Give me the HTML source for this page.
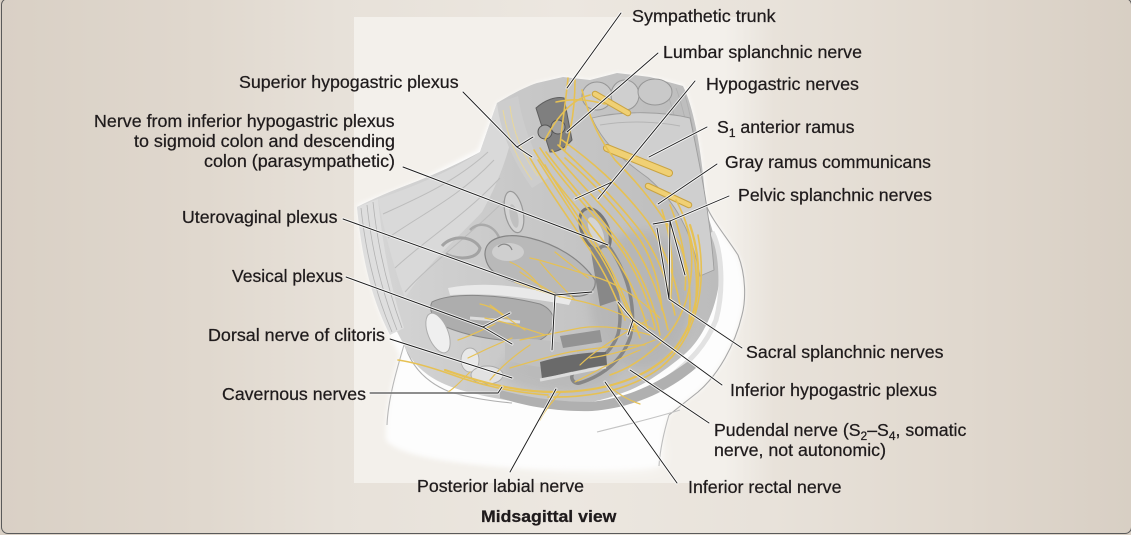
<!DOCTYPE html>
<html><head><meta charset="utf-8">
<style>
html,body{margin:0;padding:0;}
body{width:1131px;height:535px;overflow:hidden;position:relative;background:linear-gradient(to right,#d9d0c5 0%,#e0d8ce 18%,#e7e1d9 30%,#ece7e0 50%,#e8e2da 68%,#e0d8ce 85%,#d8cfc4 100%);font-family:"Liberation Sans",Arial,sans-serif;}
.frame{position:absolute;left:1px;top:-2px;width:1131px;height:536px;border:1.3px solid #5a5a5a;border-radius:7px;box-sizing:border-box;}
svg{position:absolute;left:0;top:0;}
</style></head><body>
<svg width="1131" height="535" viewBox="0 0 1131 535">
<defs>
<linearGradient id="panelG" gradientUnits="userSpaceOnUse" x1="354" y1="0" x2="775" y2="0">
<stop offset="0" stop-color="#f3f0eb"/><stop offset="0.88" stop-color="#f3f0eb"/><stop offset="1" stop-color="#f3f0eb" stop-opacity="0"/>
</linearGradient>
<linearGradient id="greyG" gradientUnits="userSpaceOnUse" x1="357" y1="0" x2="720" y2="0">
<stop offset="0" stop-color="#d6d6d6"/><stop offset="0.45" stop-color="#c8c8c8"/><stop offset="1" stop-color="#bcbcbc"/>
</linearGradient>
<filter id="soft" x="-10%" y="-10%" width="120%" height="130%"><feGaussianBlur stdDeviation="2.5"/></filter>
<filter id="soft2" x="-10%" y="-20%" width="120%" height="140%"><feGaussianBlur stdDeviation="7"/></filter>
<filter id="soft3" x="-20%" y="-20%" width="140%" height="140%"><feGaussianBlur stdDeviation="5"/></filter>
</defs>

<!-- light panel -->
<rect x="354" y="17" width="421" height="466" fill="url(#panelG)"/>

<!-- white silhouette -->
<path d="M420,430 C480,468 600,476 660,466 L660,440 L420,420 Z" fill="#ffffff" filter="url(#soft2)"/>
<path d="M357,205 L420,180 L478,150 L497,103 L537,83 L563,77 L590,80 L617,73 L650,77 L683,85 C695,110 703,160 706,205 C712,220 725,235 738,255 C746,275 746,300 742,315 C735,345 718,375 698,392 L669,415 C663,435 660,450 660,466 C600,472 500,470 440,460 C410,455 392,448 386,440 C385,415 390,385 400,355 C380,320 365,280 357,205 Z" fill="#fdfdfd" filter="url(#soft)"/>

<!-- outlines of skin/thigh -->
<g fill="none" stroke="#a8a8a8" stroke-width="1.1">
<path d="M706,205 C712,220 725,235 738,255 C746,275 746,300 742,315 C735,345 718,375 698,392 L669,415"/>
<path d="M669,415 C663,435 660,450 659,466" stroke="#bdbdbd"/>
<path d="M404,345 C396,372 388,400 387,425" stroke="#b8b8b8"/>
<path d="M597,432 C625,425 655,418 680,410" stroke="#c4c4c4"/>
<path d="M404,342 C410,365 425,382 450,392 C470,398 490,401 512,403" stroke="#b0b0b0"/>
</g>

<!-- grey interior -->
<path d="M357,207 C380,195 400,188 420,180 C445,170 465,160 480,152 L497,103 C510,95 525,87 537,83 L563,77 L590,80 L617,73 L650,77 L683,86 C695,110 703,160 706,210 C713,230 718,250 720,268 C720,300 705,340 680,358 C665,370 645,385 625,392 C600,402 575,406 550,405 C520,403 490,398 468,392 C440,385 415,372 404,345 C388,315 365,270 357,207 Z" fill="url(#greyG)"/>

<!-- shading -->
<ellipse cx="640" cy="300" rx="50" ry="70" fill="#a9a9a9" opacity="0.45" filter="url(#soft3)"/>
<ellipse cx="560" cy="370" rx="60" ry="22" fill="#a9a9a9" opacity="0.4" filter="url(#soft3)"/>

<!-- back muscle stripes right -->
<g fill="none" stroke="#b0b0b0" stroke-width="0.9">
<path d="M676,88 C688,120 695,170 700,215"/>
<path d="M684,92 C694,125 700,170 704,212"/>
<path d="M668,95 C680,130 688,180 694,225"/>
</g>
<path d="M712,232 C722,250 724,290 716,320 C706,345 690,362 668,378" fill="none" stroke="#e2e2e2" stroke-width="5"/>

<!-- abdominal wall band -->
<path d="M357,207 C362,260 372,300 390,335 L404,328 C392,292 383,250 378,199 Z" fill="#dedede"/>
<g stroke="#b2b2b2" stroke-width="0.8" fill="none">
<path d="M361,208 C366,255 376,295 392,332"/>
<path d="M367,205 C372,252 382,292 397,330"/>
<path d="M373,202 C378,250 388,290 402,328"/>
</g>

<!-- iliac region -->
<path d="M378,199 C410,188 450,172 480,152 L497,103 L518,97 C515,140 500,180 482,212 C458,238 428,262 405,298 C394,268 385,235 378,199 Z" fill="#d9d9d9"/>
<g stroke="#bcbcbc" stroke-width="1" fill="none">
<path d="M383,214 C418,198 455,182 488,152"/>
<path d="M388,238 C420,215 458,198 494,160"/>
<path d="M395,268 C425,240 462,218 500,178"/>
<path d="M405,292 C432,262 465,240 505,200"/>
</g>
<!-- ovary & tube loops -->
<ellipse cx="514" cy="212" rx="9" ry="21" transform="rotate(-12 514 212)" fill="#d4d4d4" stroke="#999" stroke-width="1.2"/>
<ellipse cx="514" cy="216" rx="4" ry="12" transform="rotate(-12 514 216)" fill="#c0c0c0"/>
<path d="M442,246 C452,234 474,236 480,248 C478,260 456,260 446,254" fill="none" stroke="#a3a3a3" stroke-width="3"/>
<path d="M470,230 C480,220 495,225 500,240" fill="none" stroke="#aaaaaa" stroke-width="2.5"/>

<!-- psoas -->
<path d="M497,103 C500,130 512,160 532,188 L548,178 C532,150 522,122 518,96 Z" fill="#cdcdcd"/>
<g stroke="#e9d89a" stroke-width="1" fill="none">
<path d="M503,110 C507,135 516,158 532,180"/>
<path d="M510,106 C513,132 522,155 538,176"/>
</g>

<!-- iliac vessels -->
<path d="M536,108 C545,100 556,96 564,98 L572,140 C565,148 557,152 550,152 Z" fill="#7f7f7f" stroke="#5f5f5f" stroke-width="1"/>
<circle cx="545" cy="132" r="7" fill="#a4a4a4" stroke="#555" stroke-width="1"/>
<circle cx="558" cy="127" r="7" fill="#a4a4a4" stroke="#555" stroke-width="1"/>

<!-- vertebrae -->
<ellipse cx="597" cy="96" rx="15" ry="14" fill="#cbcbcb" stroke="#969696" stroke-width="1"/>
<ellipse cx="625" cy="95" rx="14" ry="15" fill="#cfcfcf" stroke="#969696" stroke-width="1"/>
<ellipse cx="655" cy="92" rx="17" ry="13" fill="#c9c9c9" stroke="#969696" stroke-width="1"/>
<!-- sacrum -->
<path d="M592,118 C625,110 665,112 690,118 C700,165 710,215 714,270 L700,276 C692,232 676,202 648,178 C626,162 604,146 592,118 Z" fill="#cfcfcf" stroke="#9e9e9e" stroke-width="0.9"/>
<path d="M600,125 C630,120 660,122 680,126" fill="none" stroke="#b5b5b5" stroke-width="1"/>

<!-- sigmoid ring -->
<ellipse cx="595" cy="230" rx="13" ry="23" transform="rotate(-25 595 230)" fill="#b5b5b5" stroke="#777" stroke-width="3"/>
<ellipse cx="596" cy="231" rx="6" ry="15" transform="rotate(-25 596 231)" fill="#d4d4d4"/>

<!-- dark cervical/posterior wall band -->
<path d="M590,246 L612,250 L618,300 L600,306 Z" fill="#888"/>
<!-- rectum -->
<path d="M605,252 C624,280 630,312 624,336 C617,356 600,370 578,377" stroke="#868686" stroke-width="16" fill="none" stroke-linecap="round"/>
<path d="M605,252 C624,280 630,312 624,336 C617,356 600,370 578,377" stroke="#b9b9b9" stroke-width="9" fill="none" stroke-linecap="round"/>

<!-- white band over bladder -->
<path d="M448,288 C490,280 530,288 572,298 L569,305 C530,298 490,292 450,295 Z" fill="#e9e9e9"/>
<!-- uterus -->
<path d="M485,255 C484,238 505,232 530,238 C555,244 580,258 595,280 C597,292 585,298 570,296 C545,292 520,285 500,276 C490,271 486,264 485,255 Z" fill="#b9b9b9" stroke="#858585" stroke-width="1.2"/>
<ellipse cx="508" cy="252" rx="16" ry="9" fill="#cfcfcf"/>
<path d="M498,247 C503,242 510,244 512,250" fill="none" stroke="#888" stroke-width="1.2"/>

<!-- bladder -->
<path d="M432,302 C452,292 500,294 540,304 C560,312 556,332 540,340 C510,344 470,337 446,327 C433,320 428,310 432,302 Z" fill="#adadad" stroke="#888" stroke-width="1"/>
<path d="M470,318 L520,322" stroke="#dcdcdc" stroke-width="3"/>
<!-- lower mid region -->
<path d="M505,340 C525,337 555,340 578,347 L574,368 C552,370 527,366 505,360 Z" fill="#c0c0c0"/>
<path d="M560,336 L600,330 L602,342 L563,348 Z" fill="#939393"/>
<!-- vagina dark band -->
<path d="M540,362 C560,356 585,352 606,352 L607,365 C585,368 562,374 542,379 Z" fill="#6a6a6a"/>
<path d="M540,380 C562,376 586,370 606,367" fill="none" stroke="#dcdcdc" stroke-width="3"/>

<!-- pubic symphysis -->
<ellipse cx="438" cy="333" rx="10" ry="21" transform="rotate(-22 438 333)" fill="#efefef" stroke="#adadad" stroke-width="1"/>
<!-- labia -->
<ellipse cx="470" cy="360" rx="9" ry="12" fill="#e8e8e8" stroke="#adadad" stroke-width="0.9"/>
<ellipse cx="487" cy="375" rx="16" ry="9" fill="#e2e2e2" stroke="#aaaaaa" stroke-width="0.9"/>
<!-- perineum / pelvic floor band -->
<path d="M500,390 C530,398 560,402 590,402 C630,398 660,382 690,360 L696,368 C668,392 632,408 592,411 C555,412 525,406 500,398 Z" fill="#b0b0b0"/>

<!-- NERVES -->
<g fill="none" stroke="#c9a341" stroke-linecap="round">
<path d="M595,94 L628,113" stroke-width="6.5"/>
<path d="M607,148 L669,173" stroke-width="8"/>
<path d="M648,186 L689,205" stroke-width="6.5"/>
</g>
<g fill="none" stroke="#f0d074" stroke-linecap="round">
<path d="M595,94 L628,113" stroke-width="4.5"/>
<path d="M607,148 L669,173" stroke-width="6"/>
<path d="M648,186 L689,205" stroke-width="4.5"/>
</g>
<g fill="none" stroke="#e6c154" stroke-width="1.6" stroke-linecap="round">
<path d="M568,78 C566,100 562,125 560,145"/>
<path d="M575,80 C575,105 572,128 565,150"/>
<path d="M582,90 C590,120 600,140 615,160 C640,185 660,210 680,245 C690,270 692,300 688,330"/>
<path d="M545,140 C555,120 570,100 590,95"/>
<path d="M556,102 C575,98 590,100 605,104"/>
<path d="M534,150 C555,185 585,215 610,250 C628,275 640,300 648,330"/>
<path d="M540,148 C562,182 592,212 618,245 C636,270 648,298 655,328"/>
<path d="M546,152 C570,185 600,215 625,250 C642,275 655,305 660,335"/>
<path d="M552,150 C575,180 604,205 630,240 C648,265 660,295 668,330"/>
<path d="M538,160 C560,195 580,225 600,255 C615,280 625,305 636,330"/>
<path d="M545,165 C565,200 588,228 607,262 C620,285 630,310 640,338"/>
<path d="M558,145 C585,170 612,195 638,228 C655,250 668,280 675,315"/>
<path d="M565,158 C590,180 615,205 640,240 C652,258 660,285 662,310"/>
<path d="M530,158 C548,190 570,220 590,250 C605,272 615,295 625,320"/>
<path d="M562,140 C590,160 620,185 648,222 C662,245 675,275 680,305"/>
<path d="M670,205 C680,230 688,260 685,290"/>
<path d="M662,210 C672,240 675,270 670,300"/>
<path d="M676,200 C692,230 700,270 695,310"/>
<path d="M690,225 C705,270 700,320 672,352 C645,380 600,392 555,392 C515,392 480,382 445,370" stroke-width="2.2"/>
<path d="M698,235 C708,290 695,340 660,368 C630,390 590,398 548,397"/>
<path d="M685,220 C698,260 692,305 668,335 C650,355 630,368 610,375"/>
<path d="M548,395 C510,392 480,385 450,374 C430,367 412,362 398,360"/>
<path d="M470,372 C462,380 455,388 448,392" stroke-width="1.1"/>
<path d="M560,393 C552,402 545,410 540,420" stroke-width="1.3"/>
<path d="M610,387 C620,395 628,400 640,404" stroke-width="1.2"/>
</g>
<g fill="none" stroke="#e6c154" stroke-width="1.2" stroke-linecap="round">
<path d="M655,330 C625,315 600,305 575,300 C555,296 535,290 515,282"/>
<path d="M650,335 C625,328 600,325 580,328 C560,332 540,336 520,340"/>
<path d="M660,318 C635,295 615,282 592,276 C570,270 550,262 530,258"/>
<path d="M645,345 C620,345 595,348 570,352 C550,356 530,362 510,368"/>
<path d="M640,350 C615,360 595,372 575,382"/>
<path d="M648,320 C620,335 595,350 580,365"/>
<path d="M655,340 C630,350 610,355 590,358"/>
<path d="M575,300 C560,285 548,272 540,262"/>
<path d="M560,297 C548,290 535,283 520,272"/>
<path d="M545,292 C535,280 525,268 510,262"/>
<path d="M588,278 C575,268 565,260 555,252"/>
<path d="M545,335 C525,328 505,322 485,318"/>
<path d="M525,330 C512,322 500,312 490,305"/>
<path d="M512,338 C495,345 480,352 468,358"/>
<path d="M495,324 C482,330 470,336 458,340"/>
<path d="M505,318 C498,310 490,306 480,304"/>
<path d="M530,345 C515,355 500,368 490,380"/>
</g>

<!-- LEADER LINES -->
<g fill="none" stroke="#ffffff" stroke-width="2.8" stroke-opacity="0.8" stroke-linecap="round">
<path d="M621,13 L567,88"/>
<path d="M658,53 L567,132"/>
<path d="M695,81 L598,199 M612,182 L575,199"/>
<path d="M707,127 L649,157"/>
<path d="M717,164 L658,204"/>
<path d="M729,196 L670,221 L653,224 M670,221 L685,275"/>
<path d="M742,348 L669,299 L657,228 M669,299 L670,222"/>
<path d="M722,385 L633,320 L618,302 M633,320 L628,335"/>
<path d="M709,423 L630,370"/>
<path d="M677,483 L605,382"/>
<path d="M510,472 L556,389"/>
<path d="M370,393 L498,393 L502,387"/>
<path d="M390,339 L512,378"/>
<path d="M346,277 L483,327 L510,313 M483,327 L512,344"/>
<path d="M343,219 L555,295 L592,292 M555,295 L552,350"/>
<path d="M403,167 L608,245"/>
<path d="M463,92 L517,147 L533,137 M517,147 L532,157"/>
</g>
<g fill="none" stroke="#1c1c1c" stroke-width="0.95" stroke-linecap="round" stroke-linejoin="round">
<path d="M621,13 L567,88"/>
<path d="M658,53 L567,132"/>
<path d="M695,81 L598,199 M612,182 L575,199"/>
<path d="M707,127 L649,157"/>
<path d="M717,164 L658,204"/>
<path d="M729,196 L670,221 L653,224 M670,221 L685,275"/>
<path d="M742,348 L669,299 L657,228 M669,299 L670,222"/>
<path d="M722,385 L633,320 L618,302 M633,320 L628,335"/>
<path d="M709,423 L630,370"/>
<path d="M677,483 L605,382"/>
<path d="M510,472 L556,389"/>
<path d="M370,393 L498,393 L502,387"/>
<path d="M390,339 L512,378"/>
<path d="M346,277 L483,327 L510,313 M483,327 L512,344"/>
<path d="M343,219 L555,295 L592,292 M555,295 L552,350"/>
<path d="M403,167 L608,245"/>
<path d="M463,92 L517,147 L533,137 M517,147 L532,157"/>
</g>

<!-- LABELS -->
<g font-family="'Liberation Sans', Arial, sans-serif" font-size="17.7" fill="#1f1b1c" stroke="#1f1b1c" stroke-width="0.25">
<text x="632" y="22" textLength="143.6" lengthAdjust="spacingAndGlyphs">Sympathetic trunk</text>
<text x="663" y="58" textLength="199" lengthAdjust="spacingAndGlyphs">Lumbar splanchnic nerve</text>
<text x="239" y="88" textLength="219.6" lengthAdjust="spacingAndGlyphs">Superior hypogastric plexus</text>
<text x="706" y="90" textLength="153" lengthAdjust="spacingAndGlyphs">Hypogastric nerves</text>
<text x="94" y="127" textLength="300.6" lengthAdjust="spacingAndGlyphs">Nerve from inferior hypogastric plexus</text>
<text x="134" y="147" textLength="261" lengthAdjust="spacingAndGlyphs">to sigmoid colon and descending</text>
<text x="204" y="167" textLength="191" lengthAdjust="spacingAndGlyphs">colon (parasympathetic)</text>
<text x="717" y="133">S<tspan font-size="12" dy="4">1</tspan><tspan dy="-4"> anterior ramus</tspan></text>
<text x="725" y="168" textLength="206" lengthAdjust="spacingAndGlyphs">Gray ramus communicans</text>
<text x="738" y="201" textLength="194" lengthAdjust="spacingAndGlyphs">Pelvic splanchnic nerves</text>
<text x="182" y="223" textLength="155.5" lengthAdjust="spacingAndGlyphs">Uterovaginal plexus</text>
<text x="232" y="282" textLength="111" lengthAdjust="spacingAndGlyphs">Vesical plexus</text>
<text x="208" y="341" textLength="177" lengthAdjust="spacingAndGlyphs">Dorsal nerve of clitoris</text>
<text x="746" y="358" textLength="197.5" lengthAdjust="spacingAndGlyphs">Sacral splanchnic nerves</text>
<text x="730" y="396" textLength="207" lengthAdjust="spacingAndGlyphs">Inferior hypogastric plexus</text>
<text x="222" y="400" textLength="144" lengthAdjust="spacingAndGlyphs">Cavernous nerves</text>
<text x="714" y="436">Pudendal nerve (S<tspan font-size="12" dy="4">2</tspan><tspan dy="-4">–S</tspan><tspan font-size="12" dy="4">4</tspan><tspan dy="-4">, somatic</tspan></text>
<text x="714" y="456" textLength="172" lengthAdjust="spacingAndGlyphs">nerve, not autonomic)</text>
<text x="417" y="492" textLength="167" lengthAdjust="spacingAndGlyphs">Posterior labial nerve</text>
<text x="688" y="493" textLength="153.5" lengthAdjust="spacingAndGlyphs">Inferior rectal nerve</text>
<text x="481" y="522" font-weight="bold" font-size="16.5" textLength="135.4" lengthAdjust="spacingAndGlyphs">Midsagittal view</text>
</g>
</svg>
<div class="frame"></div>
</body></html>
